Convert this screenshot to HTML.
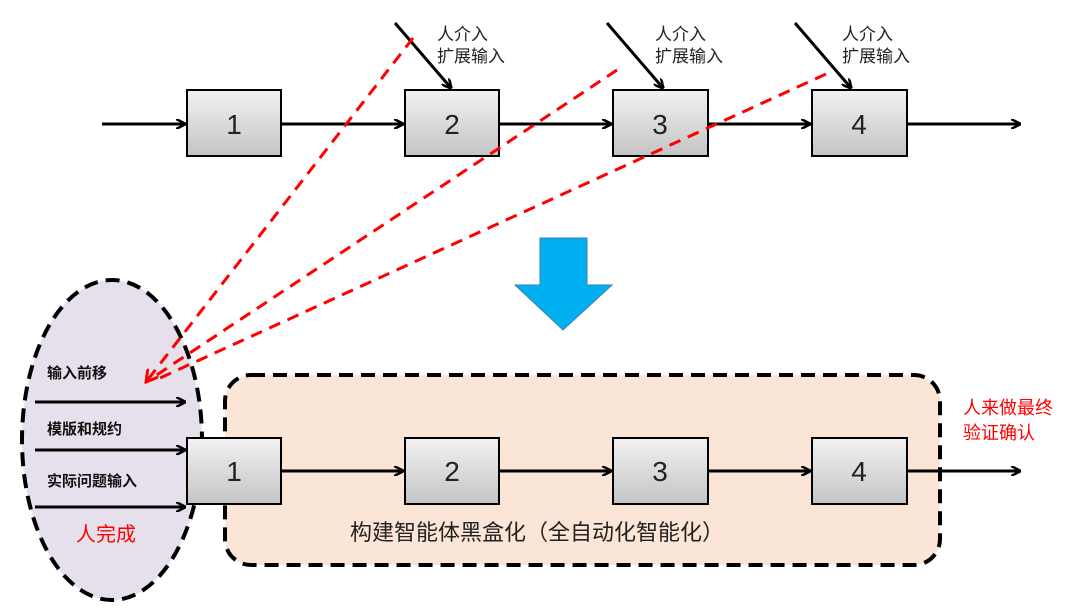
<!DOCTYPE html>
<html><head><meta charset="utf-8"><style>body{margin:0;background:#fff}</style></head><body>
<svg width="1080" height="609" viewBox="0 0 1080 609" xmlns="http://www.w3.org/2000/svg" font-family="Liberation Sans, Noto Sans CJK SC, sans-serif">
<defs>
<linearGradient id="g" x1="0" y1="0" x2="0" y2="1"><stop offset="0" stop-color="#f2f2f2"/><stop offset="1" stop-color="#c4c4c4"/></linearGradient>
<marker id="a" markerWidth="10" markerHeight="10" refX="9" refY="5" orient="auto" markerUnits="userSpaceOnUse"><path d="M0,0 L10,5 L0,10" fill="none" stroke="#000" stroke-width="2.5"/></marker>
<marker id="r" markerWidth="14" markerHeight="14" refX="12" refY="7" orient="auto" markerUnits="userSpaceOnUse"><path d="M0,0 L12,7 L0,14" fill="none" stroke="#f00" stroke-width="3"/></marker>
</defs>
<ellipse cx="112" cy="440" rx="90" ry="160" fill="#e6e0ec" stroke="#000" stroke-width="4" stroke-dasharray="14,8"/>
<rect x="225" y="375" width="715" height="190" rx="26" fill="#fbe5d6" stroke="#000" stroke-width="4" stroke-dasharray="14,8"/>
<g stroke="#000" stroke-width="3" fill="none" marker-end="url(#a)">
<line x1="102" y1="124" x2="185" y2="124"/><line x1="281" y1="124" x2="403" y2="124"/><line x1="499" y1="124" x2="611" y2="124"/><line x1="708" y1="124" x2="810" y2="124"/><line x1="907" y1="124" x2="1020" y2="124"/>
<line x1="395" y1="23" x2="451" y2="88"/><line x1="607" y1="23" x2="663" y2="88"/><line x1="795" y1="23" x2="851" y2="88"/>
<line x1="35" y1="402" x2="185" y2="402"/><line x1="35" y1="450" x2="185" y2="450"/><line x1="35" y1="507" x2="185" y2="507"/>
<line x1="281" y1="471" x2="403" y2="471"/><line x1="499" y1="471" x2="611" y2="471"/><line x1="708" y1="471" x2="810" y2="471"/><line x1="907" y1="471" x2="1020" y2="471"/>
</g>
<g fill="url(#g)" stroke="#000" stroke-width="2">
<rect x="187" y="90" width="94" height="66"/><rect x="405" y="90" width="94" height="66"/><rect x="613" y="90" width="95" height="66"/><rect x="812" y="90" width="95" height="66"/>
<rect x="187" y="438" width="94" height="66"/><rect x="405" y="438" width="94" height="66"/><rect x="613" y="438" width="95" height="66"/><rect x="812" y="438" width="95" height="66"/>
</g>
<g font-size="28" text-anchor="middle" fill="#222">
<text x="234" y="134">1</text><text x="452" y="134">2</text><text x="660" y="134">3</text><text x="859" y="134">4</text>
<text x="234" y="481">1</text><text x="452" y="481">2</text><text x="660" y="481">3</text><text x="859" y="481">4</text>
</g>
<g stroke="#f00" stroke-width="3" stroke-dasharray="12,8" fill="none">
<line x1="413" y1="38" x2="146" y2="382" marker-end="url(#r)"/>
<line x1="617" y1="70" x2="146" y2="382"/>
<line x1="826" y1="74" x2="160" y2="378"/>
</g>
<path d="M540,238 H587 V285 H612 L563,330 L515,285 H540 Z" fill="#00b0f0" stroke="#3a7fb0" stroke-width="1"/>
<g font-size="17" fill="#222">
<text x="437" y="40">人介入</text><text x="437" y="62">扩展输入</text>
<text x="655" y="40">人介入</text><text x="655" y="62">扩展输入</text>
<text x="842" y="40">人介入</text><text x="842" y="62">扩展输入</text>
</g>
<g font-size="15" font-weight="bold" fill="#111">
<text x="47" y="378">输入前移</text><text x="47" y="434">模版和规约</text><text x="47" y="486">实际问题输入</text>
</g>
<text x="76" y="541" font-size="20" fill="#f00">人完成</text>
<text x="963" y="414" font-size="18" fill="#f00">人来做最终</text>
<text x="963" y="439" font-size="18" fill="#f00">验证确认</text>
<text x="350" y="540" font-size="22" fill="#222">构建智能体黑盒化（全自动化智能化）</text>
</svg>
</body></html>
